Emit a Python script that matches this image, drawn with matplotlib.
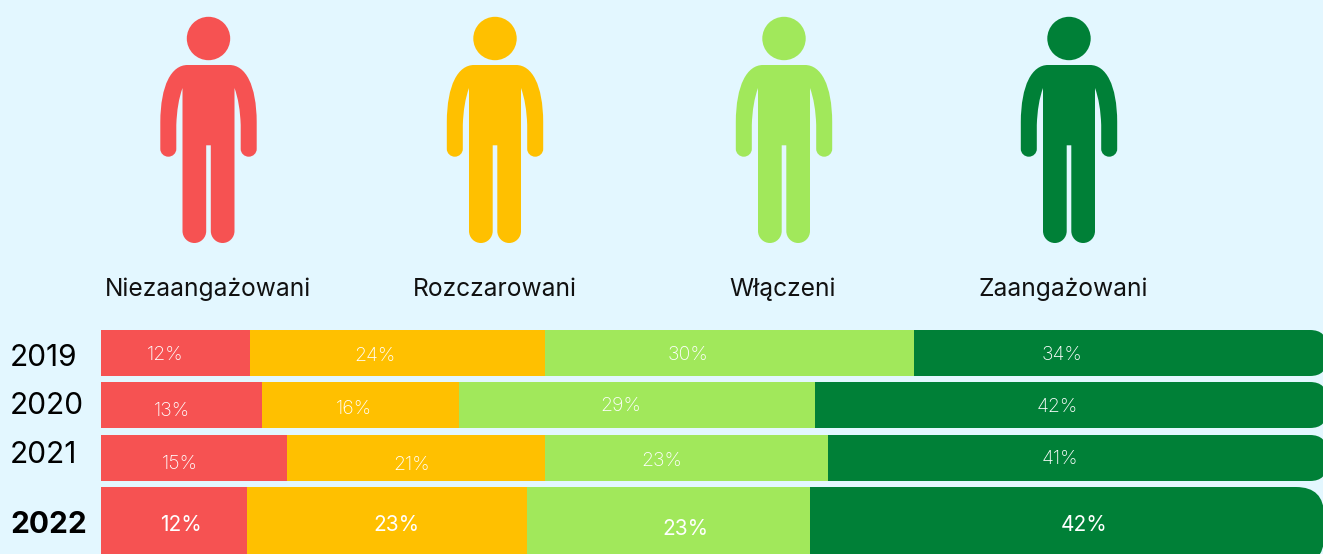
from matplotlib import pyplot as plt
from matplotlib.patches import Circle, FancyBboxPatch, PathPatch
from matplotlib.path import Path

groups = ["Niezaangażowani", "Rozczarowani", "Włączeni", "Zaangażowani"]
colors = ["#F65252", "#FFC000", "#A1E85B", "#008037"]
years = ["2019", "2020", "2021", "2022"]

niezaangazowani = [12.2, 13.2, 15.2, 11.95]
rozczarowani = [24.1, 16.1, 21.1, 22.9]
wlaczeni = [30.2, 29.1, 23.2, 23.2]
zaangazowani = [33.5, 41.6, 40.5, 41.95]
series = [niezaangazowani, rozczarowani, wlaczeni, zaangazowani]

labels = [
	["12%", "13%", "15%", "12%"],
	["24%", "16%", "21%", "23%"],
	["30%", "29%", "23%", "23%"],
	["34%", "42%", "41%", "42%"],
]

# layout in pixels
W, H = 1323, 554
BG = "#E3F7FF"
BAR_LEFT = 101
row_top = [330, 382, 435, 487]
row_bottom = [376, 428, 481, 565]
row_radius = [17, 17, 17, 28]
row_end = [1327, 1327, 1327, 1324]
year_y = [366, 414, 463, 533]
person_x = [208.5, 495, 784, 1069]
group_x = [208, 495, 783, 1063]
label_x = [
	[165, 172, 180, 181],
	[375, 354, 412, 396],
	[688, 621, 662, 685],
	[1062, 1057, 1060, 1084],
]
label_y = [
	[360, 416, 469, 531],
	[361, 414, 470, 531],
	[360, 411, 466, 535],
	[360, 412, 464, 531],
]

plt.rcParams["font.family"] = ["Inter", "DejaVu Sans"]


def person_path(cx):
	# right half of the icon going down from the neck, offsets from the centre
	half = [
		(Path.MOVETO, (0, 65)),
		(Path.LINETO, (21, 65)),
		(Path.CURVE4, (37, 65)), (Path.CURVE4, (48, 85)), (Path.CURVE4, (48.2, 122)),
		(Path.LINETO, (48.2, 149)),
		(Path.CURVE4, (48.2, 153.2)), (Path.CURVE4, (44.6, 156.7)), (Path.CURVE4, (40.2, 156.7)),
		(Path.CURVE4, (35.8, 156.7)), (Path.CURVE4, (32.2, 153.2)), (Path.CURVE4, (32.2, 149)),
		(Path.LINETO, (32.2, 125)),
		(Path.CURVE3, (31.5, 103)), (Path.CURVE3, (26, 88)),
		(Path.LINETO, (26, 231)),
		(Path.CURVE4, (26, 237.6)), (Path.CURVE4, (20.7, 243)), (Path.CURVE4, (14.1, 243)),
		(Path.CURVE4, (7.6, 243)), (Path.CURVE4, (2.3, 237.6)), (Path.CURVE4, (2.3, 231)),
		(Path.LINETO, (2.3, 145.3)),
		(Path.LINETO, (0, 145.3)),
	]
	items = [(code, (cx + p[0], p[1])) for code, p in half]
	# walk the same outline back on the left side
	for i in range(len(half) - 1, 0, -1):
		p = half[i - 1][1]
		items.append((half[i][0], (cx - p[0], p[1])))
	items.append((Path.CLOSEPOLY, (cx, 65)))
	return Path([p for _, p in items], [c for c, _ in items])


fig = plt.figure(figsize=(W / 100, H / 100), dpi=100, facecolor=BG)

bars = fig.add_axes([BAR_LEFT / W, 0, (W - BAR_LEFT) / W, 1])
bars.set_xlim(0, 100)
bars.set_ylim(H, 0)
bars.axis("off")

# pixel axes on top for the icons and all the text
ax = fig.add_axes([0, 0, 1, 1], zorder=2)
ax.set_xlim(0, W)
ax.set_ylim(H, 0)
ax.axis("off")

for j, values in enumerate(series):
	for i, v in enumerate(values):
		left = sum(s[i] for s in series[:j])
		rect = bars.barh((row_top[i] + row_bottom[i]) / 2, v, left=left, color=colors[j],
			height=row_bottom[i] - row_top[i], linewidth=0)[0]
		if j == len(series) - 1:
			# only the last segment has rounded ends, and they run off the picture
			r = row_radius[i]
			clip = FancyBboxPatch((BAR_LEFT - 50, row_top[i] + r), row_end[i] - BAR_LEFT + 50 - r,
				row_bottom[i] - row_top[i] - 2 * r, boxstyle=f"round,pad={r},rounding_size={r}",
				transform=ax.transData, mutation_aspect=1, facecolor="none", edgecolor="none")
			ax.add_patch(clip)
			rect.set_clip_path(clip)
		last = i == len(labels[j]) - 1
		ax.text(label_x[j][i], label_y[j][i], labels[j][i], color="white", fontsize=15 if last else 14,
			fontweight="normal" if last else "light", ha="center", va="baseline", zorder=5)

for k, cx in enumerate(person_x):
	ax.add_patch(PathPatch(person_path(cx), facecolor=colors[k], edgecolor="none"))
	ax.add_patch(Circle((cx, 38.5), 21.7, facecolor=colors[k], edgecolor="none"))
	ax.text(group_x[k], 296, groups[k], color="#111111", fontsize=17.7, ha="center", va="baseline")

for i, year in enumerate(years):
	bold = i == len(years) - 1
	ax.text(10, year_y[i], year, color="black", fontsize=21.5,
		fontweight="bold" if bold else "normal", ha="left", va="baseline")

fig.savefig("out.png", dpi=100, facecolor=BG)
